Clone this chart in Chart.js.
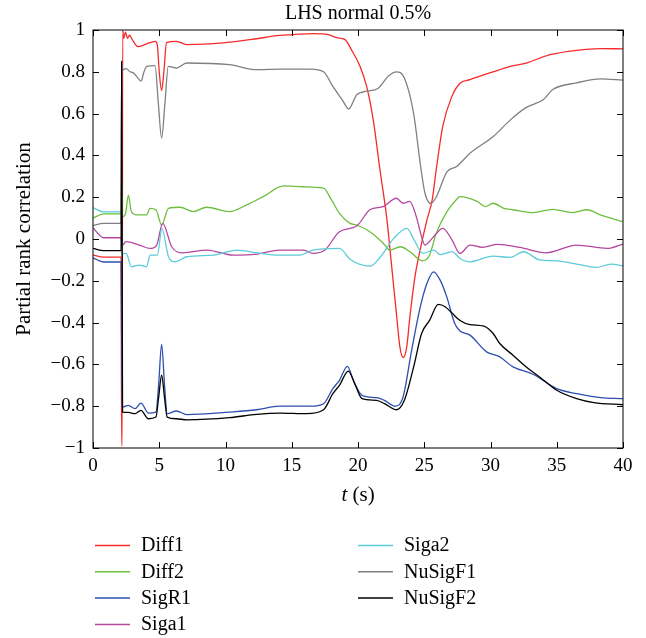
<!DOCTYPE html>
<html>
<head>
<meta charset="utf-8">
<script src="https://cdn.jsdelivr.net/npm/chart.js@4/dist/chart.umd.min.js"></script>
<style>
  body { margin: 0; background: #fff; }
  canvas { display: block; }
</style>
</head>
<body>
<canvas id="chart" width="646" height="638"></canvas>
<script>
// Each series: [t (s), partial rank correlation]
const diff1 = [[0,-0.077],[0.8,-0.087],[2.12,-0.087],[2.16,-0.99],[2.2,-0.99],[2.24,1.0],[2.32,0.96],[2.45,0.99],[2.6,0.96],[2.75,0.975],[3.0,0.95],[3.4,0.92],[4.05,0.934],[4.7,0.946],[4.85,0.93],[5.0,0.8],[5.18,0.71],[5.35,0.8],[5.55,0.94],[6.3,0.946],[7.07,0.93],[9.8,0.938],[12,0.955],[14.1,0.974],[15.1,0.978],[16.6,0.983],[17.76,0.978],[18.4,0.963],[19.0,0.955],[19.5,0.906],[20.15,0.826],[20.65,0.73],[21.15,0.57],[21.66,0.33],[22.17,0.1],[22.54,-0.13],[22.92,-0.37],[23.17,-0.52],[23.42,-0.567],[23.67,-0.52],[23.92,-0.37],[24.3,-0.18],[24.7,-0.05],[25.2,0.09],[25.6,0.187],[25.9,0.33],[26.4,0.54],[27.07,0.68],[27.7,0.745],[28.45,0.763],[30.2,0.80],[31.5,0.826],[32.7,0.842],[34.5,0.882],[36.5,0.903],[38.3,0.911],[40,0.91]];
const diff2 = [[0,0.10],[0.8,0.12],[2.12,0.12],[2.17,0.28],[2.22,0.107],[2.45,0.12],[2.67,0.21],[2.9,0.13],[3.4,0.115],[4.05,0.115],[4.3,0.147],[4.75,0.14],[5.18,0.067],[5.7,0.147],[6.57,0.152],[7.57,0.131],[8.58,0.152],[10.3,0.131],[11.6,0.163],[12.85,0.203],[14.4,0.254],[15.9,0.25],[17.4,0.243],[18.0,0.187],[18.6,0.123],[19.4,0.075],[19.9,0.067],[20.9,0.035],[21.9,-0.02],[22.4,-0.053],[23.2,-0.037],[23.9,-0.06],[24.9,-0.105],[25.4,-0.077],[25.9,0.027],[26.7,0.13],[27.45,0.19],[27.7,0.203],[29,0.18],[29.6,0.155],[30.2,0.171],[31,0.147],[31.7,0.14],[33.2,0.126],[34.7,0.142],[36.2,0.126],[37.3,0.14],[38.3,0.115],[40,0.083]];
const sigR1 = [[0,-0.09],[0.8,-0.11],[2.12,-0.11],[2.2,-0.8],[2.25,-0.804],[2.67,-0.796],[3.17,-0.812],[3.62,-0.785],[4.18,-0.833],[4.75,-0.828],[4.95,-0.7],[5.18,-0.504],[5.4,-0.7],[5.6,-0.836],[6.3,-0.823],[7.07,-0.84],[10.3,-0.828],[12.35,-0.817],[14.1,-0.80],[16.4,-0.80],[17.4,-0.788],[18.1,-0.716],[18.6,-0.676],[19.2,-0.609],[19.65,-0.676],[20.3,-0.748],[21.4,-0.759],[22,-0.772],[22.8,-0.80],[23.4,-0.756],[24.05,-0.532],[24.7,-0.325],[25.2,-0.213],[25.7,-0.157],[26.2,-0.197],[26.7,-0.277],[27.3,-0.404],[27.7,-0.44],[28.45,-0.46],[29.7,-0.54],[30.7,-0.564],[31.7,-0.612],[33.2,-0.647],[35,-0.716],[36.5,-0.74],[38.3,-0.759],[40,-0.764]];
const siga1 = [[0,0.053],[0.8,0.006],[2.12,0.006],[2.2,-0.03],[2.5,-0.013],[3.5,-0.029],[4.3,-0.045],[4.8,-0.03],[5.26,0.075],[5.94,-0.037],[6.8,-0.066],[8.58,-0.053],[10.6,-0.077],[12.35,-0.072],[14.1,-0.053],[15.9,-0.053],[16.6,-0.069],[17.5,-0.053],[18.6,0.035],[19.9,0.062],[20.9,0.14],[21.9,0.155],[22.9,0.195],[23.4,0.171],[23.9,0.18],[24.4,0.107],[24.8,0.01],[25.05,-0.029],[25.7,0.011],[26.4,0.051],[27.1,-0.005],[27.7,-0.069],[28.45,-0.029],[29.4,-0.04],[30.5,-0.026],[32.2,-0.04],[34.2,-0.066],[36.5,-0.029],[38.8,-0.045],[40,-0.024]];
const siga2 = [[0,0.15],[0.8,0.13],[2.12,0.13],[2.2,-0.07],[2.5,-0.069],[2.9,-0.133],[3.5,-0.125],[4.05,-0.133],[4.3,-0.077],[4.86,-0.077],[5.2,0.051],[5.7,-0.085],[6.2,-0.109],[7.07,-0.085],[9.1,-0.077],[10.85,-0.053],[12.35,-0.066],[14.1,-0.077],[15.6,-0.077],[16.6,-0.053],[18.6,-0.045],[19.4,-0.097],[20.9,-0.13],[21.7,-0.085],[22.7,0.003],[23.7,0.051],[24.2,0.0],[24.9,-0.069],[25.7,-0.053],[26.2,-0.075],[27.1,-0.06],[27.7,-0.093],[28.45,-0.109],[30.2,-0.082],[31.5,-0.088],[32.5,-0.061],[33.7,-0.1],[35,-0.105],[36.5,-0.12],[38,-0.136],[39.1,-0.12],[40,-0.128]];
const nuSigF1 = [[0,0.064],[0.8,0.075],[2.12,0.075],[2.17,0.84],[2.25,0.81],[2.5,0.815],[2.8,0.80],[3.04,0.795],[3.4,0.77],[3.62,0.755],[3.85,0.8],[4.05,0.826],[4.68,0.83],[4.93,0.65],[5.18,0.483],[5.43,0.65],[5.68,0.826],[6.3,0.818],[7.07,0.842],[10.3,0.834],[12.35,0.81],[14.1,0.813],[16.4,0.813],[17.4,0.80],[18.1,0.73],[18.8,0.667],[19.3,0.622],[19.9,0.69],[20.65,0.707],[21.5,0.72],[22.3,0.78],[22.9,0.80],[23.5,0.77],[24.2,0.60],[24.7,0.36],[25.05,0.22],[25.5,0.17],[25.9,0.20],[26.7,0.32],[27.45,0.347],[28.45,0.41],[30.2,0.49],[31.5,0.57],[32.7,0.63],[34.0,0.667],[34.7,0.715],[36.5,0.747],[38.3,0.766],[40,0.76]];
const nuSigF2 = [[0,-0.045],[0.8,-0.056],[2.12,-0.056],[2.16,0.85],[2.23,-0.828],[2.67,-0.83],[3.17,-0.836],[3.62,-0.82],[4.18,-0.86],[4.75,-0.852],[4.95,-0.76],[5.18,-0.652],[5.4,-0.76],[5.6,-0.852],[6.3,-0.86],[7.07,-0.865],[10.3,-0.855],[12.35,-0.839],[14.1,-0.833],[16.1,-0.836],[17.4,-0.817],[18.1,-0.74],[18.6,-0.70],[19.27,-0.632],[19.8,-0.7],[20.3,-0.764],[21.4,-0.772],[22,-0.788],[22.9,-0.817],[23.5,-0.772],[24.2,-0.612],[24.8,-0.452],[25.4,-0.389],[26.06,-0.313],[26.6,-0.325],[27.07,-0.353],[27.7,-0.39],[28.45,-0.41],[29.5,-0.417],[30.2,-0.452],[30.7,-0.50],[31.7,-0.556],[32.7,-0.612],[33.7,-0.66],[35,-0.724],[36.5,-0.764],[37.8,-0.783],[40,-0.793]];

const seriesNames = ['Diff1', 'Diff2', 'SigR1', 'Siga1', 'Siga2', 'NuSigF1', 'NuSigF2'];
const seriesData = [diff1, diff2, sigR1, siga1, siga2, nuSigF1, nuSigF2];
const seriesColors = ['#f52a2a', '#6cbf3e', '#2c4fb0', '#b4479f', '#5ccbd9', '#808080', '#000000'];

const xTicks = [0, 5, 10, 15, 20, 25, 30, 35, 40];
const yTicks = [1, 0.8, 0.6, 0.4, 0.2, 0, -0.2, -0.4, -0.6, -0.8, -1];

const FONT = '"Liberation Serif", "DejaVu Serif", serif';

function fmtY(v) {
  const r = Math.round(v * 10) / 10;
  if (r === 0) return '0';
  const s = String(Math.abs(r));
  return r < 0 ? '\u2212' + s : s;
}

// Frame, inward ticks, title, axis labels and the two-column legend
const decorations = {
  id: 'decorations',
  afterDraw(chart) {
    const { ctx, chartArea: a, scales } = chart;
    ctx.save();
    ctx.strokeStyle = '#000';
    ctx.lineWidth = 1;
    ctx.strokeRect(a.left, a.top, a.right - a.left, a.bottom - a.top);
    const tl = 6;
    ctx.beginPath();
    xTicks.forEach(t => {
      const px = Math.round(scales.x.getPixelForValue(t)) + 0.5;
      ctx.moveTo(px, a.bottom); ctx.lineTo(px, a.bottom - tl);
      ctx.moveTo(px, a.top); ctx.lineTo(px, a.top + tl);
    });
    yTicks.forEach(v => {
      const py = Math.round(scales.y.getPixelForValue(v)) + 0.5;
      ctx.moveTo(a.left, py); ctx.lineTo(a.left + tl, py);
      ctx.moveTo(a.right, py); ctx.lineTo(a.right - tl, py);
    });
    ctx.stroke();

    ctx.fillStyle = '#000';
    const cx = (a.left + a.right) / 2;
    ctx.textAlign = 'center';
    ctx.textBaseline = 'middle';
    ctx.font = '20px ' + FONT;
    ctx.fillText('LHS normal 0.5%', cx, 14);

    // x title with italic t
    ctx.textAlign = 'left';
    ctx.font = 'italic 21px ' + FONT;
    const wT = ctx.measureText('t').width;
    ctx.font = '21px ' + FONT;
    const wRest = ctx.measureText(' (s)').width;
    const x0 = cx - (wT + wRest) / 2;
    ctx.font = 'italic 21px ' + FONT;
    ctx.fillText('t', x0, 495);
    ctx.font = '21px ' + FONT;
    ctx.fillText(' (s)', x0 + wT, 495);

    // y title
    ctx.save();
    ctx.translate(24, (a.top + a.bottom) / 2);
    ctx.rotate(-Math.PI / 2);
    ctx.textAlign = 'center';
    ctx.font = '21px ' + FONT;
    ctx.fillText('Partial rank correlation', 0, 0);
    ctx.restore();

    // legend: 4 rows in first column, 3 in second
    ctx.font = '20px ' + FONT;
    ctx.textAlign = 'left';
    seriesNames.forEach((name, i) => {
      const col = i < 4 ? 0 : 1;
      const row = i < 4 ? i : i - 4;
      const lx = col === 0 ? 95 : 358;
      const ly = 545 + row * 26.3;
      ctx.strokeStyle = seriesColors[i];
      ctx.lineWidth = 1.5;
      ctx.beginPath();
      ctx.moveTo(lx, ly + 0.5); ctx.lineTo(lx + 35, ly + 0.5);
      ctx.stroke();
      ctx.fillText(name, lx + 46, ly + 1);
    });
    ctx.restore();
  }
};

new Chart(document.getElementById('chart'), {
  type: 'line',
  data: {
    datasets: seriesNames.map((name, i) => ({
      label: name,
      data: seriesData[i].map(p => ({ x: p[0], y: p[1] })),
      borderColor: seriesColors[i],
      borderWidth: 1.3,
      pointRadius: 0,
      fill: false,
      cubicInterpolationMode: 'monotone',
      order: seriesNames.length - i
    }))
  },
  options: {
    responsive: false,
    animation: false,
    devicePixelRatio: 1,
    layout: { padding: { top: 30, right: 23, left: 0, bottom: 0 } },
    plugins: {
      legend: { display: false },
      title: { display: false },
      tooltip: { enabled: false }
    },
    scales: {
      x: {
        type: 'linear',
        min: 0,
        max: 40,
        afterFit: s => { s.height = 190; },
        afterBuildTicks: s => { s.ticks = xTicks.map(v => ({ value: v })); },
        grid: { display: false, drawTicks: false },
        border: { display: false },
        ticks: { color: '#000', padding: 7, maxRotation: 0, font: { family: FONT, size: 19 } }
      },
      y: {
        min: -1,
        max: 1,
        afterFit: s => { s.width = 93; },
        afterBuildTicks: s => { s.ticks = yTicks.map(v => ({ value: v })); },
        grid: { display: false, drawTicks: false },
        border: { display: false },
        ticks: { color: '#000', padding: 8, font: { family: FONT, size: 19 }, callback: v => fmtY(v) }
      }
    }
  },
  plugins: [decorations]
});
</script>
</body>
</html>
